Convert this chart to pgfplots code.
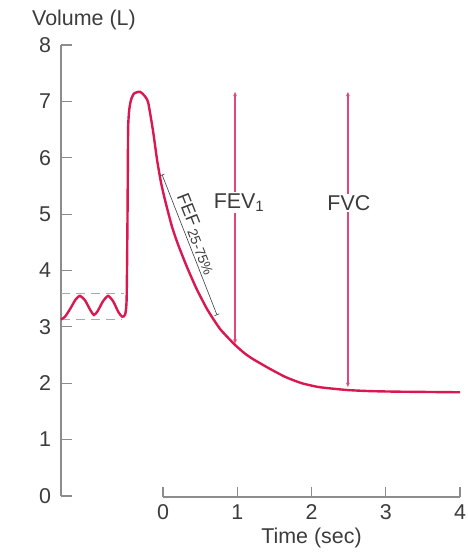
\documentclass[border=0pt]{standalone}
\usepackage{fontspec}
\setmainfont{Liberation Sans}
\usepackage{pgfplots}
\pgfplotsset{compat=1.18}
\usetikzlibrary{arrows.meta}
\definecolor{curve}{RGB}{218,24,80}
\definecolor{arr}{RGB}{228,70,120}
\definecolor{axgray}{RGB}{140,140,140}
\definecolor{txt}{RGB}{60,60,60}
\definecolor{dashc}{RGB}{170,170,170}
\begin{document}
\begin{tikzpicture}[x=1bp,y=1bp]
\useasboundingbox (0,0) rectangle (468,552);
\begin{axis}[
  name=main, at={(61bp,56bp)}, anchor=south west,
  scale only axis, width=399bp, height=451bp,
  xmin=-1.374, xmax=4, ymin=0, ymax=8,
  axis x line=none, axis y line=left,
  axis line style={-, axgray, line width=1.2bp},
  ytick={0,...,8}, tick align=inside, major tick length=11bp,
  tick style={axgray, line width=1.2bp},
  yticklabel style={font=\fontsize{21.5}{25}\selectfont, text=txt, xshift=-6.5bp},
  /pgf/number format/assume math mode=true,
  clip=false,
]
% tidal breathing reference lines
\addplot[dashc, line width=1.2bp, dash pattern=on 9bp off 6bp] coordinates {(-1.374,3.59) (-0.53,3.59)};
\addplot[dashc, line width=1.2bp, dash pattern=on 9bp off 6bp] coordinates {(-1.374,3.13) (-0.55,3.13)};
% FEV1 and FVC arrows
\addplot[arr, line width=1.2bp, {Latex[length=5bp,width=4bp]}-{Latex[length=5bp,width=4bp]}] coordinates {(0.97,7.18) (0.97,2.69)};
\addplot[arr, line width=1.2bp, {Latex[length=5bp,width=4bp]}-{Latex[length=5bp,width=4bp]}] coordinates {(2.49,7.18) (2.49,1.92)};
% spirogram
\addplot[curve, line width=2.4bp, smooth, tension=0.35] coordinates {
(-1.374,3.13) (-1.32,3.18) (-1.25,3.32) (-1.18,3.48) (-1.12,3.55) (-1.05,3.47)
(-0.98,3.30) (-0.93,3.21) (-0.88,3.28) (-0.81,3.45) (-0.74,3.55) (-0.67,3.45)
(-0.60,3.26) (-0.55,3.18) (-0.51,3.22) (-0.49,3.5) (-0.478,5.0) (-0.47,6.5)
(-0.455,6.85) (-0.43,7.03) (-0.39,7.14) (-0.31,7.17) (-0.25,7.10) (-0.20,6.98)
(-0.135,6.48) (-0.08,5.96) (-0.027,5.56) (0.027,5.25) (0.12,4.78) (0.20,4.47)
(0.32,4.07) (0.45,3.68) (0.60,3.30) (0.77,2.96) (0.97,2.68) (1.10,2.53)
(1.21,2.43) (1.42,2.27) (1.65,2.11) (1.87,2.00)
(2.11,1.93) (2.48,1.88) (2.80,1.86) (3.20,1.85) (4.00,1.84)
};
% FEF 25-75%
\addplot[txt, line width=0.6bp, {Bar[width=5bp]}-{Bar[width=5bp]}] coordinates {(-0.013,5.70) (0.727,3.21)}
  node[pos=0.45, sloped, above, inner sep=2bp, text=txt] {\fontsize{18}{20}\selectfont FEF\,\raisebox{-0.35ex}{\fontsize{14}{16}\selectfont 25-75\%}};
\node[fill=white, inner sep=1.5bp, text=txt, font=\fontsize{21.5}{25}\selectfont, xshift=4bp] at (axis cs:0.97,5.2) {FEV\textsubscript{1}};
\node[fill=white, inner sep=1.5bp, text=txt, font=\fontsize{21.5}{25}\selectfont, xshift=1bp] at (axis cs:2.49,5.2) {FVC};
\end{axis}
\begin{axis}[
  at={(163bp,55bp)}, anchor=south west,
  scale only axis, width=297bp, height=20bp,
  xmin=0, xmax=4, ymin=0, ymax=1,
  axis y line=none, axis x line=bottom,
  axis line style={-, axgray, line width=1.2bp},
  xtick={0,...,4}, tick align=inside, major tick length=10bp,
  tick style={axgray, line width=1.2bp},
  xticklabel style={font=\fontsize{21.5}{25}\selectfont, text=txt, yshift=-4bp},
  /pgf/number format/assume math mode=true,
  xlabel={Time (sec)},
  xlabel style={at={(axis description cs:0.5,0)}, anchor=base, yshift=-46bp, font=\fontsize{21.5}{25}\selectfont, text=txt},
]
\end{axis}
\node[anchor=base west, text=txt, font=\fontsize{21.5}{25}\selectfont, inner sep=0pt] at (32,526) {Volume (L)};
\end{tikzpicture}
\end{document}
